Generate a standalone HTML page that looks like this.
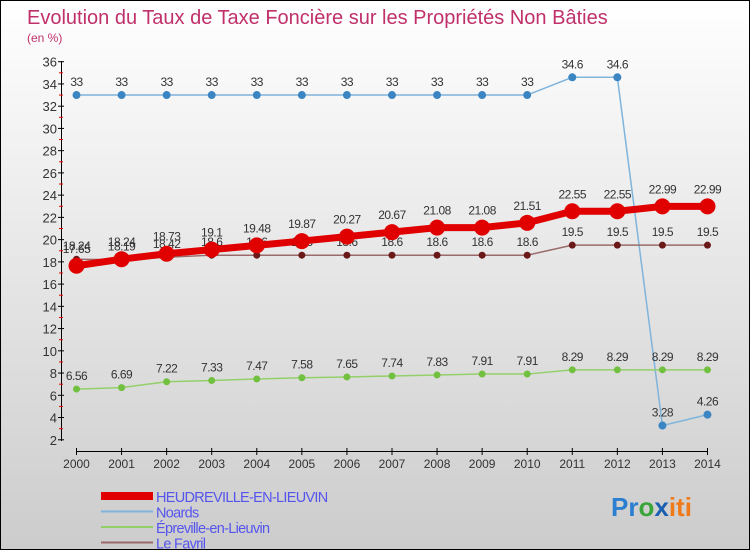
<!DOCTYPE html>
<html><head><meta charset="utf-8"><style>
body{margin:0;width:750px;height:550px;overflow:hidden;font-family:"Liberation Sans",sans-serif}
#wrap{position:relative;width:748px;height:548px;border:1px solid #000;background:linear-gradient(#fff,#ccc)}
svg{position:absolute;left:0;top:0}
</style></head><body>
<div id="wrap">
<svg id="chart" width="750" height="550">
<text x="26" y="23" font-size="20" fill="#c0306a">Evolution du Taux de Taxe Foncière sur les Propriétés Non Bâties</text>
<text x="26" y="41" font-size="12" fill="#c0306a">(en %)</text>
<g id="axes"></g><g id="series"></g><g id="legend"></g>
<text x="610" y="515" font-size="26" font-weight="bold"><tspan fill="#2a7fd0">Pr</tspan><tspan fill="#3aa53a">o</tspan><tspan fill="#1a5fb0">x</tspan><tspan fill="#f07a1a">iti</tspan></text>
</svg></div>
<script>
const years=[2000,2001,2002,2003,2004,2005,2006,2007,2008,2009,2010,2011,2012,2013,2014];
const heud=[17.65,18.24,18.73,19.1,19.48,19.87,20.27,20.67,21.08,21.08,21.51,22.55,22.55,22.99,22.99];
const noards=[33,33,33,33,33,33,33,33,33,33,33,34.6,34.6,3.28,4.26];
const epre=[6.56,6.69,7.22,7.33,7.47,7.58,7.65,7.74,7.83,7.91,7.91,8.29,8.29,8.29,8.29];
const favril=[18.24,18.19,18.42,18.6,18.6,18.6,18.6,18.6,18.6,18.6,18.6,19.5,19.5,19.5,19.5];
const yTicks=[2,4,6,8,10,12,14,16,18,20,22,24,26,28,30,32,34,36];
const NS="http://www.w3.org/2000/svg";
const x=i=>75.5+i*45.07, y=v=>60.7+(36-v)*11.12;
function mk(p,t,a){const e=document.createElementNS(NS,t);for(const k in a)e.setAttribute(k,a[k]);p.appendChild(e);return e;}
const ax=document.getElementById('axes');
let l=mk(ax,'line',{x1:60.5,y1:60,x2:60.5,y2:440,stroke:'#000'});


yTicks.forEach(v=>{mk(ax,'line',{x1:57,x2:63,y1:y(v),y2:y(v),stroke:'#000'});
 if(v<36)mk(ax,'line',{x1:58,x2:62,y1:y(v+1),y2:y(v+1),stroke:'#e00'});
 const t=mk(ax,'text',{x:56,y:y(v)+5,'font-size':13,fill:'#333','text-anchor':'end'});t.textContent=v;
 
 });
l=mk(ax,'line',{x1:75,y1:450.5,x2:707,y2:450.5,stroke:'#000'});


years.forEach((yr,i)=>{mk(ax,'line',{x1:x(i),x2:x(i),y1:447,y2:454,stroke:'#000'});
 const t=mk(ax,'text',{x:x(i),y:467,'font-size':12,fill:'#333','text-anchor':'middle'});t.textContent=yr;
 
 });
const sg=document.getElementById('series');
function series(d,name,col,dot,w,r,lab){
 const g=mk(sg,'g',{});
 
 
 mk(g,'polyline',{points:d.map((v,i)=>x(i)+','+y(v)).join(' '),fill:'none',stroke:col,'stroke-width':w});
 d.forEach((v,i)=>{const c=mk(g,'circle',{cx:x(i),cy:y(v),r:r,fill:dot});
  
  
  const t=mk(g,'text',{x:x(i),y:y(v)-lab,'font-size':12,fill:'#333','text-anchor':'middle','letter-spacing':'-0.5'});t.textContent=v;
  
  });
}
series(noards,'noards-series','#7fb4dc','#3b86c2',1.5,4,9);
series(epre,'epreville-series','#94d06a','#72c040',1.5,3.5,9);
series(favril,'le-favril-series','#9a6a6a','#6a1818',1.5,3.5,9);
series(heud,'heudreville-series','#e00000','#e00000',7,8,13);
const lg=document.getElementById('legend');
[['HEUDREVILLE-EN-LIEUVIN','#e00000',8],['Noards','#7fb4dc',2],['Épreville-en-Lieuvin','#94d06a',2],['Le Favril','#9a6a6a',2]].forEach((e,i)=>{
 const yy=494+i*15.5;
 const g=mk(lg,'g',{});
 
 
 mk(g,'line',{x1:100,x2:152,y1:yy+1,y2:yy+1,stroke:e[1],'stroke-width':e[2]});
 const t=mk(g,'text',{x:155,y:yy+7,'font-size':14.5,fill:'#5555ee','letter-spacing':'-0.7'});t.textContent=e[0];
});
</script>
</body></html>
